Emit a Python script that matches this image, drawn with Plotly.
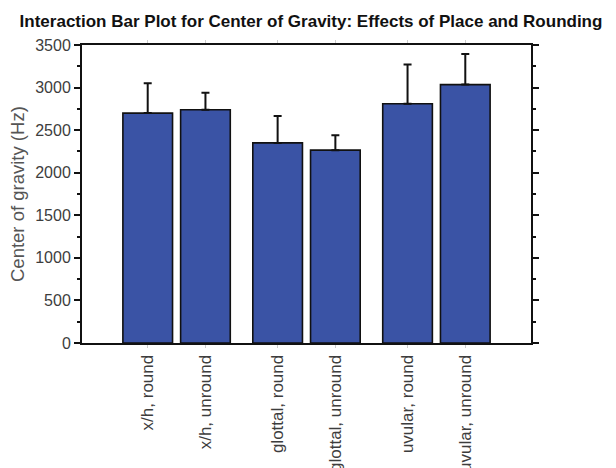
import plotly.graph_objects as go

# Data
places = ["x/h", "x/h", "glottal", "glottal", "uvular", "uvular"]
rounding = ["round", "unround", "round", "unround", "round", "unround"]
labels = [f"{p}, {r}" for p, r in zip(places, rounding)]
mean_cog = [2700, 2740, 2350, 2265, 2810, 3035]
sd_cog = [350, 200, 315, 175, 460, 360]

# group layout: bars within a place are adjacent, with a wider gap between places
group_index = [0, 0, 1, 1, 2, 2]
within_index = [0, 1, 0, 1, 0, 1]
group_step = 2.25
xpos = [1 + w + group_step * g for g, w in zip(group_index, within_index)]

FONT = "Liberation Sans, Arial, sans-serif"

fig = go.Figure()
fig.add_trace(go.Bar(
    x=xpos,
    y=mean_cog,
    width=0.86,
    marker=dict(color="#3A53A5", line=dict(color="#111111", width=1.6)),
    error_y=dict(type="data", array=sd_cog, arrayminus=[0] * len(sd_cog),
                 symmetric=False, color="#111111", thickness=2, width=4),
    showlegend=False,
))

W, H = 608, 460
fig.update_layout(
    width=W, height=H,
    margin=dict(l=74, r=85, t=37, b=125),
    paper_bgcolor="white", plot_bgcolor="white",
    title=dict(text="<b>Interaction Bar Plot for Center of Gravity: Effects of Place and Rounding</b>",
               font=dict(family=FONT, size=17, color="#111111"),
               x=303 / W, xref="container", xanchor="center",
               y=1 - 13 / H, yref="container", yanchor="middle"),
    xaxis=dict(range=[-0.138, 7.638], tickvals=xpos, ticktext=labels,
               tickangle=-90, tickfont=dict(family=FONT, size=17, color="#3d3d3d"),
               showline=True, linecolor="#111111", linewidth=2, mirror="ticks",
               ticks="outside", ticklen=3, tickcolor="#cccccc", tickwidth=1,
               showgrid=False, zeroline=False, automargin=False),
    yaxis=dict(range=[0, 3500], tickvals=[0, 500, 1000, 1500, 2000, 2500, 3000, 3500],
               tickfont=dict(family=FONT, size=16, color="#3d3d3d"),
               showline=True, linecolor="#111111", linewidth=2, mirror="ticks",
               ticks="outside", ticklen=6, tickcolor="#111111", tickwidth=1.5,
               minor=dict(dtick=250, ticks="outside", ticklen=3, tickcolor="#111111", tickwidth=1.5),
               showgrid=False, zeroline=False, automargin=False),
    annotations=[dict(text="Center of gravity (Hz)", textangle=-90,
                      xref="paper", yref="paper", x=-(82 - 17) / 449, y=0.5,
                      xanchor="center", yanchor="middle", showarrow=False,
                      font=dict(family=FONT, size=18.5, color="#555555"))],
)

fig.write_html("out.html")
